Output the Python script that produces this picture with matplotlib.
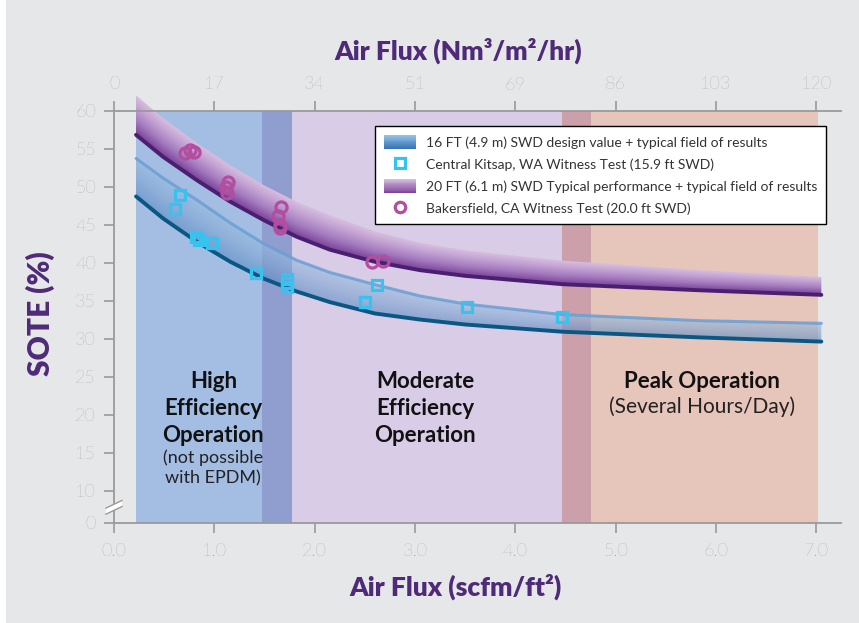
import numpy as np
import matplotlib
matplotlib.use("Agg")
import matplotlib.pyplot as plt
from matplotlib.colors import LinearSegmentedColormap, to_rgb
from matplotlib.legend_handler import HandlerBase
from matplotlib.patches import Rectangle
from matplotlib.lines import Line2D

plt.rcParams['font.family'] = ['Lato', 'DejaVu Sans']

# ---------------- data ----------------
flux_x = [0.22, 0.49, 0.83, 1.16, 1.49, 1.82, 2.15, 2.60, 3.05, 3.50, 4.47, 5.84, 7.05]
p_top = [62.0, 59.0, 55.7, 52.8, 50.2, 48.0, 46.25, 44.1, 42.6, 41.6, 40.25, 39.0, 38.1]
p_low = [56.8, 53.9, 50.8, 48.0, 45.6, 43.4, 41.7, 40.1, 39.0, 38.25, 37.15, 36.35, 35.75]
b_top = [53.7, 51.1, 48.2, 45.2, 42.5, 40.3, 38.7, 37.1, 35.6, 34.55, 33.15, 32.35, 32.0]
b_low = [48.7, 45.8, 42.7, 40.1, 37.9, 36.2, 34.8, 33.3, 32.5, 31.85, 30.9, 30.15, 29.6]

kitsap_x = [0.61, 0.66, 0.82, 0.85, 0.98, 1.42, 1.72, 1.72, 1.72, 2.50, 2.62, 3.52, 4.47]
kitsap_y = [47.1, 48.9, 43.3, 43.0, 42.6, 38.6, 37.9, 37.3, 36.8, 34.8, 37.0, 34.1, 32.8]
baker_x = [0.71, 0.76, 0.80, 1.12, 1.14, 1.13, 1.66, 1.63, 1.65, 1.65, 2.575, 2.685]
baker_y = [54.4, 54.8, 54.6, 49.9, 50.6, 49.2, 47.3, 46.1, 45.0, 44.5, 40.1, 40.25]

zone_edges = [0.22, 1.48, 1.77, 4.47, 4.75, 7.02]
zone_colors = ['#a3bde3', '#8f9dcf', '#d9cce6', '#cba0ab', '#e6c5ba']

bottom_ticks = [0, 1, 2, 3, 4, 5, 6, 7]
bottom_labels = ['0.0', '1.0', '2.0', '3.0', '4.0', '5.0', '6.0', '7.0']
top_labels = ['0', '17', '34', '51', '69', '86', '103', '120']
y_ticks = [10, 15, 20, 25, 30, 35, 40, 45, 50, 55, 60]
y_break = 5.8  # position where the "0" label sits (broken axis)

legend_labels = [
    '16 FT (4.9 m) SWD design value + typical field of results',
    'Central Kitsap, WA Witness Test (15.9 ft SWD)',
    '20 FT (6.1 m) SWD Typical performance + typical field of results',
    'Bakersfield, CA Witness Test (20.0 ft SWD)',
]

PURPLE = '#4e2a78'
GRID_GRAY = '#9a9a9a'
TICK_GRAY = '#8e8e8e'
DARK = '#111111'

fig = plt.figure(figsize=(8.59, 6.23), dpi=100, facecolor='#e6e7e9')
fig.patches.append(Rectangle((0, 0), 6 / 859, 1, transform=fig.transFigure,
                             facecolor='white', edgecolor='none', zorder=-1))
ax = fig.add_axes([0.1327, 0.1613, 0.8468, 0.6613])
ax.set_facecolor('none')
ax.set_xlim(0, 7.25)
ax.set_ylim(y_break, 60)

for i, c in enumerate(zone_colors):
    ax.axvspan(zone_edges[i], zone_edges[i + 1], color=c, lw=0, zorder=0)


def grad_band(x, lo, hi, stops, alpha, z):
    """Fill between lo and hi with a colour gradient running across the band."""
    x = np.asarray(x, float)
    lo = np.asarray(lo, float)
    hi = np.asarray(hi, float)
    shape = ax.fill_between(x, lo, hi, facecolor='none', edgecolor='none')
    path = shape.get_paths()[0]
    xs = np.linspace(x.min(), x.max(), 600)
    y0, y1 = lo.min() - 1, hi.max() + 1
    ys = np.linspace(y0, y1, 500)
    LO = np.interp(xs, x, lo)
    HI = np.interp(xs, x, hi)
    F = np.clip((ys[:, None] - LO[None, :]) / (HI - LO)[None, :], 0, 1)
    cmap = LinearSegmentedColormap.from_list('g', stops)
    im = ax.imshow(F, extent=[x.min(), x.max(), y0, y1], origin='lower', aspect='auto',
                   cmap=cmap, vmin=0, vmax=1, alpha=alpha, zorder=z, interpolation='bilinear')
    im.set_clip_path(path, ax.transData)
    im.set_clip_box(fig.bbox)
    return im


# purple band (20 ft)
grad_band(flux_x, p_low, p_top,
          [(0, '#7a4399'), (0.35, '#a47bbf'), (0.7, '#c4a3d3'), (1, '#d8c1e0')], 1.0, 2)
ax.plot(flux_x, p_low, color='#4a1f70', lw=2.8, solid_capstyle='round', zorder=3, clip_on=False)

# blue band (16 ft)
grad_band(flux_x, b_low, b_top,
          [(0, '#5a8cc4'), (0.5, '#7fa6d2'), (1, '#98bde0')], 0.6, 2)
ax.plot(flux_x, b_top, color='#6a9fd3', lw=2.2, alpha=0.85, solid_capstyle='round', zorder=3, clip_on=False)
ax.plot(flux_x, b_low, color='#0b5784', lw=2.8, solid_capstyle='round', zorder=3, clip_on=False)

# witness test points
ax.plot(kitsap_x, kitsap_y, ls='none', marker='s', ms=7.5, mfc='none', mec='#35c3f0', mew=2.3, zorder=4)
ax.plot(baker_x, baker_y, ls='none', marker='o', ms=8, mfc='none', mec='#b34da0', mew=2.3, zorder=4)

# region labels
BIG = 16
SMALL = 13
for y, s in [(23.5, 'High'), (19.95, 'Efficiency'), (16.4, 'Operation')]:
    ax.text(0.99, y, s, ha='center', va='baseline', fontsize=BIG, fontweight='bold', color=DARK, zorder=3)
ax.text(0.99, 13.6, '(not possible', ha='center', va='baseline', fontsize=SMALL, color='#222222', zorder=3)
ax.text(0.99, 11.0, 'with EPDM)', ha='center', va='baseline', fontsize=SMALL, color='#222222', zorder=3)
for y, s in [(23.5, 'Moderate'), (19.95, 'Efficiency'), (16.4, 'Operation')]:
    ax.text(3.10, y, s, ha='center', va='baseline', fontsize=BIG, fontweight='bold', color=DARK, zorder=3)
ax.text(5.86, 23.5, 'Peak Operation', ha='center', va='baseline', fontsize=BIG, fontweight='bold', color=DARK, zorder=3)
ax.text(5.86, 20.2, '(Several Hours/Day)', ha='center', va='baseline', fontsize=15, color='#222222', zorder=3)

# axes styling
ax.set_xticks(bottom_ticks)
ax.set_xticklabels(bottom_labels)
ax.set_yticks([y_break] + y_ticks)
ax.set_yticklabels(['0'] + [str(v) for v in y_ticks])
ax.tick_params(axis='both', colors=GRID_GRAY, labelcolor=TICK_GRAY, labelsize=13,
               length=7, width=1.2, direction='out')
ax.tick_params(axis='x', pad=8)
ax.tick_params(axis='y', pad=6)
for lab in ax.get_xticklabels() + ax.get_yticklabels():
    lab.set_fontweight('light')
for s in ['left', 'bottom']:
    ax.spines[s].set_color(GRID_GRAY)
    ax.spines[s].set_linewidth(1.3)
ax.spines['right'].set_visible(False)
ax.spines['top'].set_visible(False)

ax2 = ax.twiny()
ax2.set_xlim(ax.get_xlim())
ax2.set_xticks(bottom_ticks)
ax2.set_xticklabels(top_labels)
ax2.tick_params(axis='x', colors=GRID_GRAY, labelcolor=TICK_GRAY, labelsize=13,
                length=7, width=1.2, direction='out', pad=6)
for lab in ax2.get_xticklabels():
    lab.set_fontweight('light')
for s in ['left', 'right', 'bottom']:
    ax2.spines[s].set_visible(False)
ax2.spines['top'].set_color(GRID_GRAY)
ax2.spines['top'].set_linewidth(1.3)

# axis break mark on the y axis
ax.fill([-0.08, 0.08, 0.08, -0.08], [6.9, 7.9, 8.7, 7.7], color='white', lw=0, zorder=6, clip_on=False)
ax.plot([-0.08, 0.08], [6.9, 7.9], color=GRID_GRAY, lw=1.0, zorder=7, clip_on=False)
ax.plot([-0.08, 0.08], [7.7, 8.7], color=GRID_GRAY, lw=1.0, zorder=7, clip_on=False)


# legend with gradient patches
class GradHandler(HandlerBase):
    def __init__(self, cbot, ctop, n=16):
        super().__init__()
        self.cbot = np.array(to_rgb(cbot))
        self.ctop = np.array(to_rgb(ctop))
        self.n = n

    def create_artists(self, legend, orig_handle, xdescent, ydescent, width, height, fontsize, trans):
        arts = []
        for i in range(self.n):
            f = (i + 0.5) / self.n
            c = self.cbot * (1 - f) + self.ctop * f
            arts.append(Rectangle((-xdescent, -ydescent + height * i / self.n), width,
                                  height / self.n * 1.08, facecolor=c, edgecolor='none',
                                  lw=0, transform=trans))
        return arts


h1 = Rectangle((0, 0), 1, 1)
h3 = Rectangle((0, 0), 1, 1)
h2 = Line2D([], [], ls='none', marker='s', ms=7, mfc='none', mec='#35c3f0', mew=2.3)
h4 = Line2D([], [], ls='none', marker='o', ms=7.5, mfc='none', mec='#b34da0', mew=2.3)
leg = ax.legend(handles=[h1, h2, h3, h4], labels=legend_labels,
                handler_map={h1: GradHandler('#2e6cb0', '#94c4e8'), h3: GradHandler('#7a4097', '#d8bfe1')},
                loc='upper right', bbox_to_anchor=(0.979, 0.962), borderaxespad=0,
                frameon=True, fancybox=False, edgecolor='black', framealpha=1, facecolor='white',
                fontsize=10, handlelength=2.3, handleheight=1.2, handletextpad=0.7,
                labelspacing=0.55, borderpad=0.65)
leg.get_frame().set_linewidth(1.0)
leg.set_zorder(8)
for t in leg.get_texts():
    t.set_color('#333333')

# axis titles
fig.text(458 / 859, 1 - 51 / 623, 'Air Flux (Nm³/m²/hr)', ha='center', va='center',
         fontsize=19, fontweight='heavy', color=PURPLE)
fig.text(455 / 859, 1 - 587 / 623, 'Air Flux (scfm/ft²)', ha='center', va='center',
         fontsize=19, fontweight='heavy', color=PURPLE)
fig.text(40 / 859, 1 - 314 / 623, 'SOTE (%)', ha='center', va='center', rotation=90,
         fontsize=21.5, fontweight='heavy', color=PURPLE)

fig.savefig('out.png', dpi=100, facecolor=fig.get_facecolor())
